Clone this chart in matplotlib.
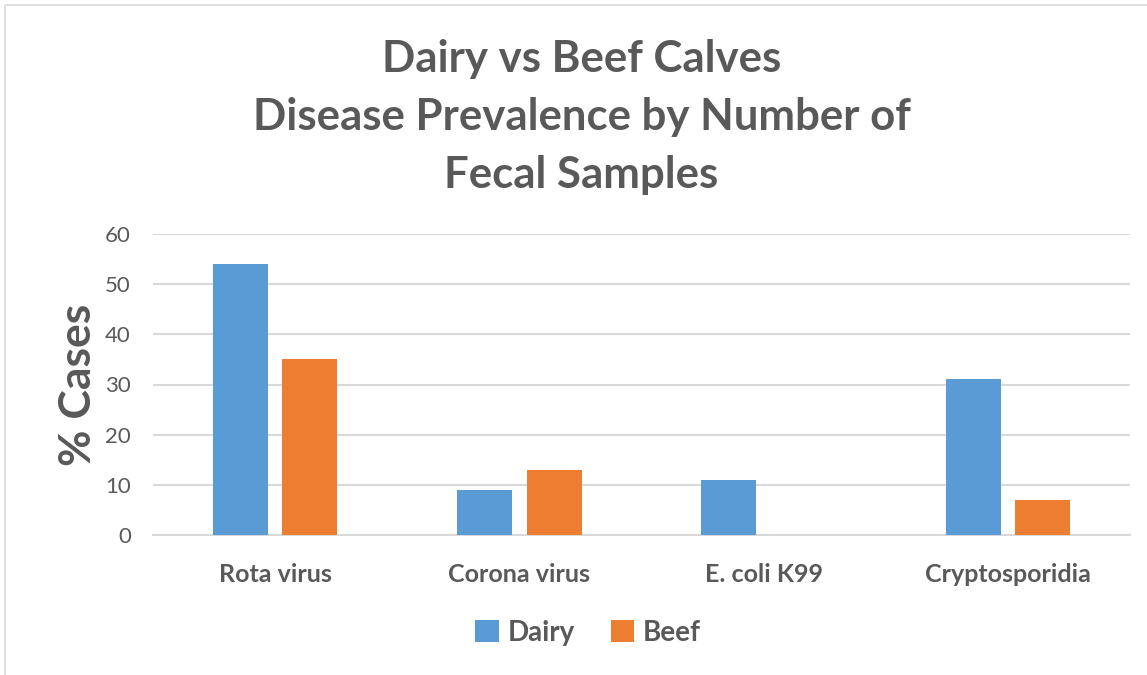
import matplotlib
matplotlib.use("Agg")
import matplotlib.pyplot as plt
from matplotlib.patches import Rectangle
import numpy as np

categories = ["Rota virus", "Corona virus", "E. coli K99", "Cryptosporidia"]
dairy = [54, 9, 11, 31]
beef = [35, 13, 0, 7]
series_names = ["Dairy", "Beef"]
yticks = [0, 10, 20, 30, 40, 50, 60]

blue = "#5B9BD5"
orange = "#ED7D31"
text_gray = "#595959"
grid_gray = "#D9D9D9"

plt.rcParams["font.family"] = ["Lato", "DejaVu Sans"]

fig = plt.figure(figsize=(11.47, 6.75), dpi=100)
fig.patch.set_facecolor("white")

# light chart border
fig.patches.append(Rectangle((5 / 1147, -0.05), 1.2, 1 - 5 / 675 + 0.05,
                             transform=fig.transFigure, fill=False,
                             edgecolor="#D9D9D9", linewidth=1.2))

ax = fig.add_axes([153 / 1147, 1 - 535 / 675, (1130 - 153) / 1147, (535 - 234) / 675])

x = np.arange(len(categories))
w = 0.225
gap = 0.06
ax.bar(x - (w + gap) / 2, dairy, w, color=blue, label=series_names[0], zorder=3)
ax.bar(x + (w + gap) / 2, beef, w, color=orange, label=series_names[1], zorder=3)

ax.set_xlim(-0.5, len(categories) - 0.5)
ax.set_ylim(0, 60)
ax.set_yticks(yticks)
ax.yaxis.grid(True, color=grid_gray, linewidth=1.5, zorder=0)
ax.set_axisbelow(True)
for s in ["top", "right", "left"]:
    ax.spines[s].set_visible(False)
ax.spines["bottom"].set_color(grid_gray)
ax.spines["bottom"].set_linewidth(1.5)
ax.tick_params(axis="both", length=0)
ax.tick_params(axis="y", labelsize=16, labelcolor=text_gray, pad=16)
ax.set_xticks(x)
ax.set_xticklabels(categories, fontsize=18, fontweight="bold", color=text_gray)
ax.tick_params(axis="x", pad=20)

ax.set_ylabel("% Cases", fontsize=32, fontweight="bold", color=text_gray, labelpad=5)

fig.text(0.507, 1 - 117 / 675,
         "Dairy vs Beef Calves\nDisease Prevalence by Number of\nFecal Samples",
         ha="center", va="center", fontsize=31.5, fontweight="bold",
         color=text_gray, linespacing=1.55)

leg = fig.legend(loc="center", bbox_to_anchor=(588 / 1147, 1 - 633 / 675),
                 ncol=2, frameon=False, handlelength=0.85, handleheight=0.85,
                 handletextpad=0.3, columnspacing=1.3,
                 prop={"size": 20, "weight": "bold"})
for t in leg.get_texts():
    t.set_color(text_gray)

fig.savefig("out.png", dpi=100, facecolor="white")
